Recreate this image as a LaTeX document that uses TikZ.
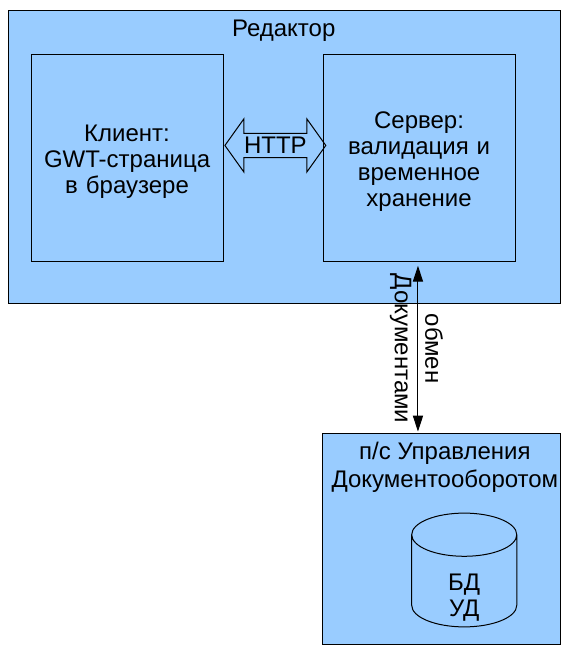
\documentclass[tikz,border=0pt]{standalone}
\usepackage{fontspec}
\setmainfont{Liberation Sans}
\usepackage{xcolor}
\usetikzlibrary{shapes,arrows.meta,positioning}
\definecolor{panelblue}{HTML}{99CCFF}

\begin{document}
\begin{tikzpicture}[node distance=2cm, auto, font=\fontsize{18}{19.5}\selectfont]
    \tikzstyle{panel} = [rectangle, draw, fill=panelblue, line width=0.75pt, inner sep=0pt]
    \tikzstyle{block} = [rectangle, draw, text width=5cm, align=center, minimum width=5.06cm,
        minimum height=5.46cm, line width=0.75pt, inner sep=0pt,
        execute at begin node={\rule{0pt}{17.5pt}}]
    \tikzstyle{line} = [draw, line width=0.75pt, {Triangle[length=0.42cm,width=0.27cm]}-{Triangle[length=0.42cm,width=0.27cm]}]

    \useasboundingbox (0,0) rectangle (15,-17.27);

    \node [panel, minimum width=14.55cm, minimum height=7.72cm] (editor) at (7.51,-4.13) {};
    \node [below=0.15cm of editor.north, xshift=-0.03cm] (editortitle) {Редактор};
    \node [block] (client) at (3.35,-4.165) {Клиент:\\GWT-страница\\в браузере};
    \node [block, right of=client, node distance=7.7cm] (server) {Сервер:\\валидация и\\временное\\хранение};
    \node [double arrow, draw, right of=client, node distance=3.91cm, yshift=0.33cm, minimum height=2.66cm,
        inner xsep=0pt, inner ysep=0.09cm, double arrow head extend=0.38cm,
        double arrow tip angle=109, line width=0.75pt] (http) {HTTP};

    \node [panel, minimum width=6.3cm, minimum height=5.56cm] (udo) at (11.64,-14.22) {};
    \node [below=0.1cm of udo.north, xshift=0.09cm, align=center] (udotitle) {п/с Управления\\[1.5pt]Документооборотом};
    \node [cylinder, draw, shape border rotate=90, aspect=1.35, minimum width=2.77cm, minimum height=3cm,
        line width=0.75pt, inner sep=0pt] (db) at (12.24,-15.32) {\phantom{БД}};
    \node [align=center, below=-0.315cm of db.center] (dblabel) {БД\\УД};

    \coordinate [below=0.1cm of server.south] (exchtop);
    \coordinate (exchbottom) at (exchtop |- udo.north);
    \path [line] ([xshift=-0.03cm]exchtop) -- ([xshift=-0.03cm,yshift=0.05cm]exchbottom);
    \node [rotate=-90, align=center] (exchlabel) at (10.98,-9.19) {обмен\\[3.5pt]Документами};
\end{tikzpicture}
\end{document}
